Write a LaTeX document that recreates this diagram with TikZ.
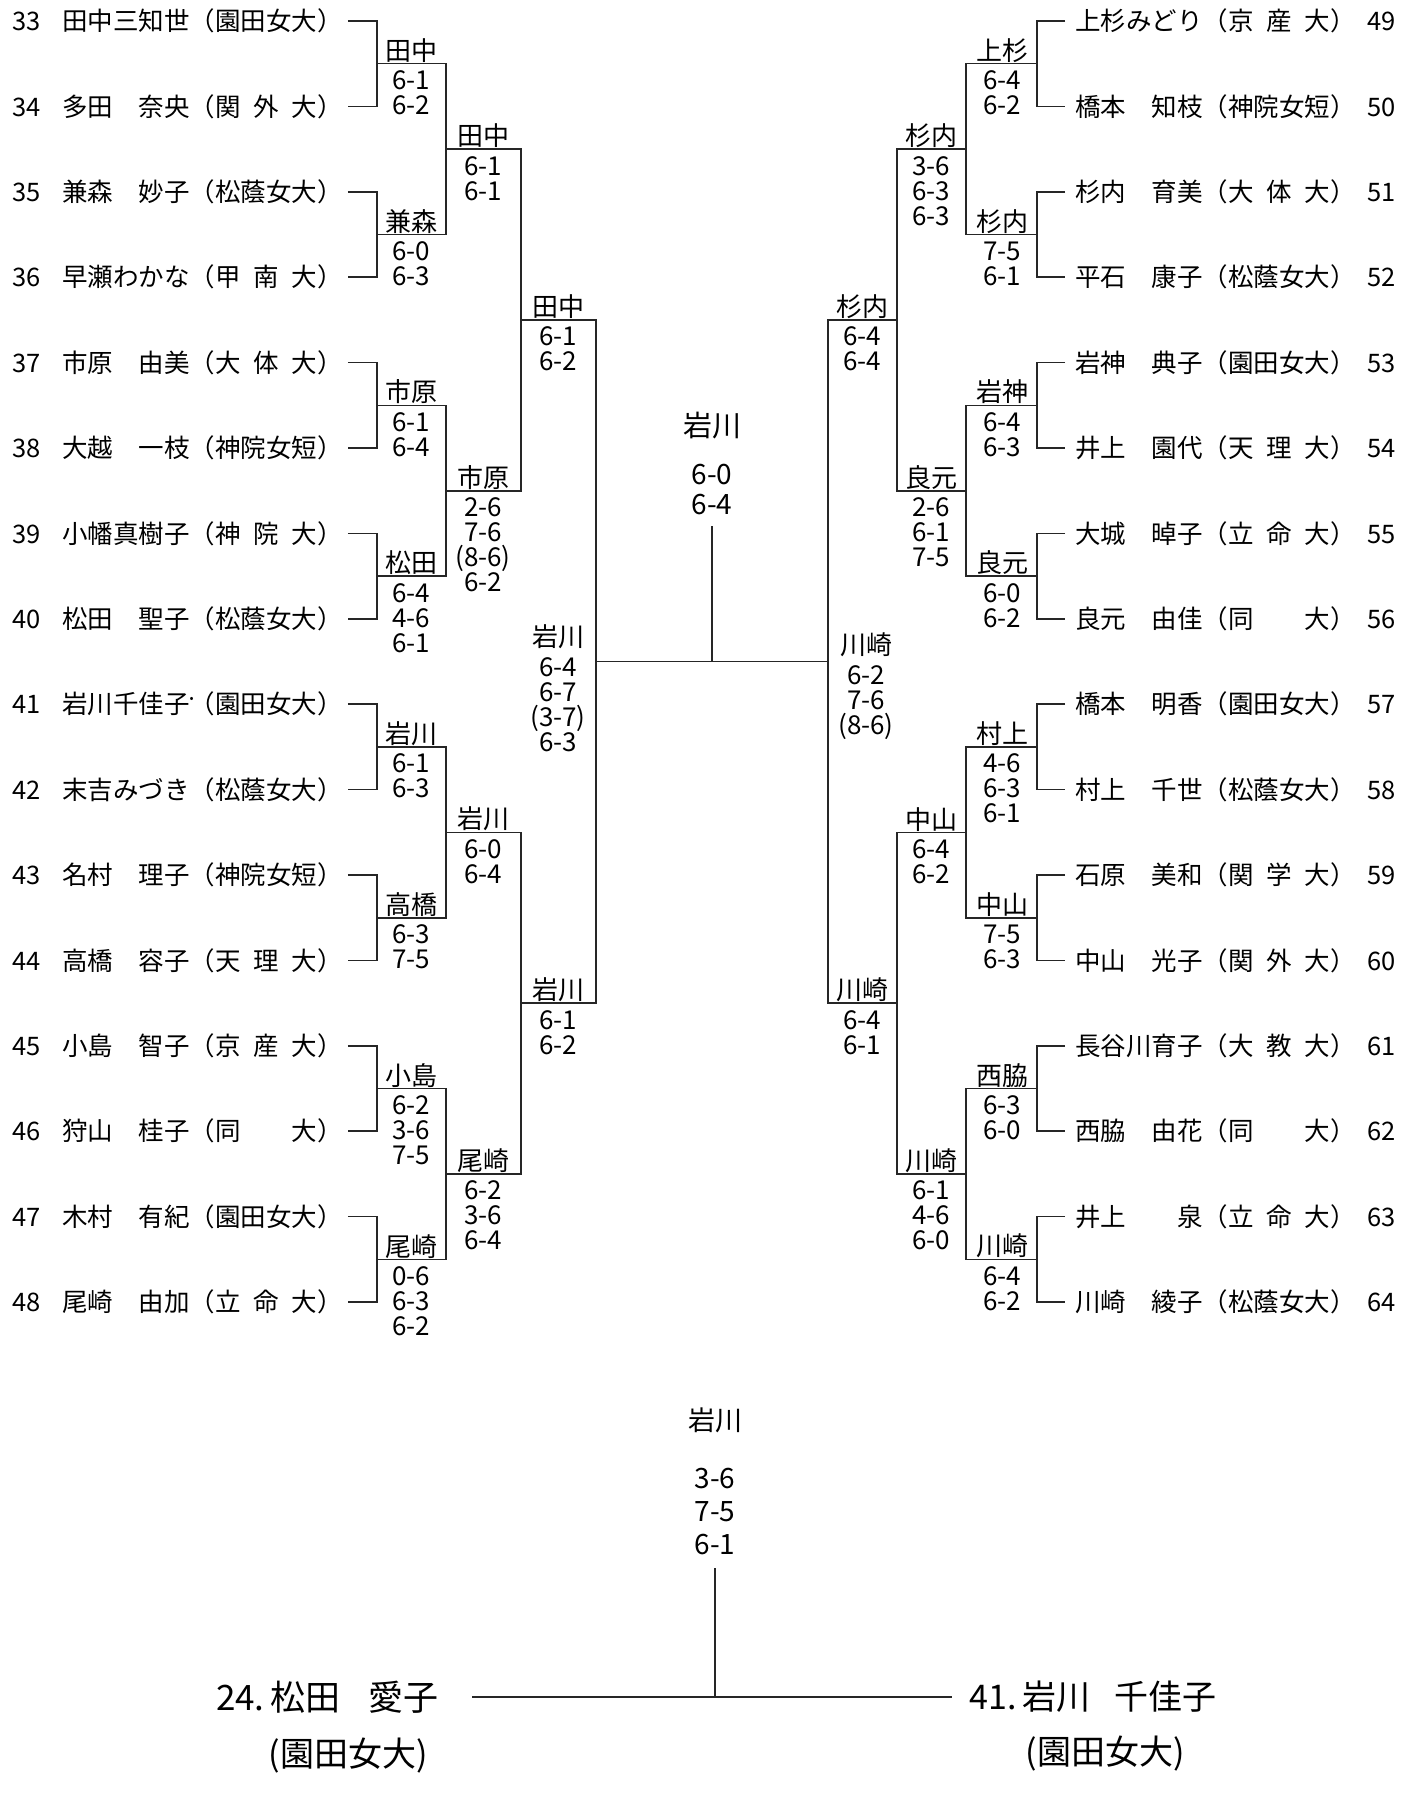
\documentclass[tikz,border=0pt]{standalone}
\usepackage{fontspec}
\setmainfont{Noto Sans CJK JP}
\usetikzlibrary{positioning}

\newcommand{\uni}[1]{\makebox[4em][s]{#1}}
\newcommand{\numL}[1]{\makebox[50pt][l]{#1}}
\newcommand{\numR}[1]{\makebox[40pt][r]{#1}}
\newcommand{\seed}{\rlap{\raisebox{.45em}{\fontsize{12}{12}\selectfont •}}}

\begin{document}
\begin{tikzpicture}[
  x=1pt, y=-1pt,
  player/.style={inner sep=0pt, font=\fontsize{25.5}{28}\selectfont},
  plL/.style={player, anchor=west},
  plR/.style={player, anchor=east},
  win/.style={anchor=south, inner sep=1pt, font=\fontsize{26}{26}\selectfont},
  score/.style={anchor=north, inner sep=1pt, align=center, font=\fontsize{26}{25}\selectfont},
  bracket/.style={line width=1.6pt, black!85}
]
\fill[white] (0,0) rectangle (1423,1798);
\useasboundingbox (0,0) rectangle (1423,1798);

% players, left half
\node[plL] (p33) at (12,21)     {\numL{33}田中三知世（\uni{園田女大}）};
\node[plL] (p34) at (12,106.4)  {\numL{34}多田　奈央（\uni{関\hfill 外\hfill 大}）};
\node[plL] (p35) at (12,191.8)  {\numL{35}兼森　妙子（\uni{松蔭女大}）};
\node[plL] (p36) at (12,277.2)  {\numL{36}早瀬わかな（\uni{甲\hfill 南\hfill 大}）};
\node[plL] (p37) at (12,362.6)  {\numL{37}市原　由美（\uni{大\hfill 体\hfill 大}）};
\node[plL] (p38) at (12,448)    {\numL{38}大越　一枝（\uni{神院女短}）};
\node[plL] (p39) at (12,533.4)  {\numL{39}小幡真樹子（\uni{神\hfill 院\hfill 大}）};
\node[plL] (p40) at (12,618.8)  {\numL{40}松田　聖子（\uni{松蔭女大}）};
\node[plL] (p41) at (12,704.2)  {\numL{41}岩川千佳子\seed（\uni{園田女大}）};
\node[plL] (p42) at (12,789.6)  {\numL{42}末吉みづき（\uni{松蔭女大}）};
\node[plL] (p43) at (12,875)    {\numL{43}名村　理子（\uni{神院女短}）};
\node[plL] (p44) at (12,960.4)  {\numL{44}高橋　容子（\uni{天\hfill 理\hfill 大}）};
\node[plL] (p45) at (12,1045.8) {\numL{45}小島　智子（\uni{京\hfill 産\hfill 大}）};
\node[plL] (p46) at (12,1131.2) {\numL{46}狩山　桂子（\uni{同\hfill 大}）};
\node[plL] (p47) at (12,1216.6) {\numL{47}木村　有紀（\uni{園田女大}）};
\node[plL] (p48) at (12,1302)   {\numL{48}尾崎　由加（\uni{立\hfill 命\hfill 大}）};

% players, right half
\node[plR] (p49) at (1396,21)     {上杉みどり（\uni{京\hfill 産\hfill 大}）\numR{49}};
\node[plR] (p50) at (1396,106.4)  {橋本　知枝（\uni{神院女短}）\numR{50}};
\node[plR] (p51) at (1396,191.8)  {杉内　育美（\uni{大\hfill 体\hfill 大}）\numR{51}};
\node[plR] (p52) at (1396,277.2)  {平石　康子（\uni{松蔭女大}）\numR{52}};
\node[plR] (p53) at (1396,362.6)  {岩神　典子（\uni{園田女大}）\numR{53}};
\node[plR] (p54) at (1396,448)    {井上　園代（\uni{天\hfill 理\hfill 大}）\numR{54}};
\node[plR] (p55) at (1396,533.4)  {大城　晫子（\uni{立\hfill 命\hfill 大}）\numR{55}};
\node[plR] (p56) at (1396,618.8)  {良元　由佳（\uni{同\hfill 大}）\numR{56}};
\node[plR] (p57) at (1396,704.2)  {橋本　明香（\uni{園田女大}）\numR{57}};
\node[plR] (p58) at (1396,789.6)  {村上　千世（\uni{松蔭女大}）\numR{58}};
\node[plR] (p59) at (1396,875)    {石原　美和（\uni{関\hfill 学\hfill 大}）\numR{59}};
\node[plR] (p60) at (1396,960.4)  {中山　光子（\uni{関\hfill 外\hfill 大}）\numR{60}};
\node[plR] (p61) at (1396,1045.8) {長谷川育子（\uni{大\hfill 教\hfill 大}）\numR{61}};
\node[plR] (p62) at (1396,1131.2) {西脇　由花（\uni{同\hfill 大}）\numR{62}};
\node[plR] (p63) at (1396,1216.6) {井上　　泉（\uni{立\hfill 命\hfill 大}）\numR{63}};
\node[plR] (p64) at (1396,1302)   {川崎　綾子（\uni{松蔭女大}）\numR{64}};

% bracket junctions
\coordinate (la1) at (377,63.7);  \coordinate (la2) at (377,234.5);
\coordinate (la3) at (377,405.3); \coordinate (la4) at (377,576.1);
\coordinate (la5) at (377,746.9); \coordinate (la6) at (377,917.7);
\coordinate (la7) at (377,1088.5);\coordinate (la8) at (377,1259.3);
\coordinate (lb1) at (446,149.1); \coordinate (lb2) at (446,490.7);
\coordinate (lb3) at (446,832.3); \coordinate (lb4) at (446,1173.9);
\coordinate (lc1) at (521,319.9); \coordinate (lc2) at (521,1003.1);
\coordinate (ld)  at (596,661.5);
\coordinate (ctr) at (712,661.5);
\coordinate (rd)  at (828,661.5);
\coordinate (rc1) at (897,319.9); \coordinate (rc2) at (897,1003.1);
\coordinate (rb1) at (966,149.1); \coordinate (rb2) at (966,490.7);
\coordinate (rb3) at (966,832.3); \coordinate (rb4) at (966,1173.9);
\coordinate (ra1) at (1037,63.7);  \coordinate (ra2) at (1037,234.5);
\coordinate (ra3) at (1037,405.3); \coordinate (ra4) at (1037,576.1);
\coordinate (ra5) at (1037,746.9); \coordinate (ra6) at (1037,917.7);
\coordinate (ra7) at (1037,1088.5);\coordinate (ra8) at (1037,1259.3);

% handwritten results, left
\node[win] (wla1) at (411,63.7) {田中};   \node[score, below=6pt of wla1.south] {6-1\\6-2};
\node[win] (wla2) at (411,234.5) {兼森};  \node[score, below=6pt of wla2.south] {6-0\\6-3};
\node[win] (wla3) at (411,405.3) {市原};  \node[score, below=6pt of wla3.south] {6-1\\6-4};
\node[win] (wla4) at (411,576.1) {松田};  \node[score, below=6pt of wla4.south] {6-4\\4-6\\6-1};
\node[win] (wla5) at (411,746.9) {岩川};  \node[score, below=6pt of wla5.south] {6-1\\6-3};
\node[win] (wla6) at (411,917.7) {高橋};  \node[score, below=6pt of wla6.south] {6-3\\7-5};
\node[win] (wla7) at (411,1088.5) {小島}; \node[score, below=6pt of wla7.south] {6-2\\3-6\\7-5};
\node[win] (wla8) at (411,1259.3) {尾崎}; \node[score, below=6pt of wla8.south] {0-6\\6-3\\6-2};
\node[win] (wlb1) at (483,149.1) {田中};  \node[score, below=6pt of wlb1.south] {6-1\\6-1};
\node[win] (wlb2) at (483,490.7) {市原};  \node[score, below=6pt of wlb2.south] {2-6\\7-6\\(8-6)\\6-2};
\node[win] (wlb3) at (483,832.3) {岩川};  \node[score, below=6pt of wlb3.south] {6-0\\6-4};
\node[win] (wlb4) at (483,1173.9) {尾崎}; \node[score, below=6pt of wlb4.south] {6-2\\3-6\\6-4};
\node[win] (wlc1) at (558,319.9) {田中};  \node[score, below=6pt of wlc1.south] {6-1\\6-2};
\node[win] (wlc2) at (558,1003.1) {岩川}; \node[score, below=6pt of wlc2.south] {6-1\\6-2};
\node[win] (wld)  at (558,650) {岩川};    \node[score, below=6pt of wld.south] {6-4\\6-7\\(3-7)\\6-3};

% handwritten results, right
\node[win] (wra1) at (1002,63.7) {上杉};   \node[score, below=6pt of wra1.south] {6-4\\6-2};
\node[win] (wra2) at (1002,234.5) {杉内};  \node[score, below=6pt of wra2.south] {7-5\\6-1};
\node[win] (wra3) at (1002,405.3) {岩神};  \node[score, below=6pt of wra3.south] {6-4\\6-3};
\node[win] (wra4) at (1002,576.1) {良元};  \node[score, below=6pt of wra4.south] {6-0\\6-2};
\node[win] (wra5) at (1002,746.9) {村上};  \node[score, below=6pt of wra5.south] {4-6\\6-3\\6-1};
\node[win] (wra6) at (1002,917.7) {中山};  \node[score, below=6pt of wra6.south] {7-5\\6-3};
\node[win] (wra7) at (1002,1088.5) {西脇}; \node[score, below=6pt of wra7.south] {6-3\\6-0};
\node[win] (wra8) at (1002,1259.3) {川崎}; \node[score, below=6pt of wra8.south] {6-4\\6-2};
\node[win] (wrb1) at (931,149.1) {杉内};   \node[score, below=6pt of wrb1.south] {3-6\\6-3\\6-3};
\node[win] (wrb2) at (931,490.7) {良元};   \node[score, below=6pt of wrb2.south] {2-6\\6-1\\7-5};
\node[win] (wrb3) at (931,832.3) {中山};   \node[score, below=6pt of wrb3.south] {6-4\\6-2};
\node[win] (wrb4) at (931,1173.9) {川崎};  \node[score, below=6pt of wrb4.south] {6-1\\4-6\\6-0};
\node[win] (wrc1) at (862,319.9) {杉内};   \node[score, below=6pt of wrc1.south] {6-4\\6-4};
\node[win] (wrc2) at (862,1003.1) {川崎};  \node[score, below=6pt of wrc2.south] {6-4\\6-1};
\node[win] (wrd)  at (866,658) {川崎};     \node[score, below=6pt of wrd.south] {6-2\\7-6\\(8-6)};

% final
\node[font=\fontsize{29}{29}\selectfont] (fw) at (712,426) {岩川};
\node[score, font=\fontsize{28}{30}\selectfont] (fsc) at (712,463) {6-0\\6-4};

% play-off
\node[font=\fontsize{27}{27}\selectfont] (bw) at (715,1420) {岩川};
\node[score, font=\fontsize{28}{33}\selectfont] (bsc) at (715,1467) {3-6\\7-5\\6-1};
\coordinate (bm) at (715,1697);
\node[anchor=east, font=\fontsize{35}{35}\selectfont] (fa) at (442,1697) {24.\,松田\hspace{.8em}愛子};
\node[anchor=west, font=\fontsize{34}{34}\selectfont] (fb) at (966,1697) {41.\,岩川\hspace{.7em}千佳子};
\node[font=\fontsize{34}{34}\selectfont] (fa2) at (348,1756) {(園田女大)};
\node[font=\fontsize{34}{34}\selectfont] (fb2) at (1105,1754) {(園田女大)};

% round 1
\draw[bracket] ([xshift=5pt]p33.east) -| (la1) |- ([xshift=5pt]p34.east);
\draw[bracket] ([xshift=5pt]p35.east) -| (la2) |- ([xshift=5pt]p36.east);
\draw[bracket] ([xshift=5pt]p37.east) -| (la3) |- ([xshift=5pt]p38.east);
\draw[bracket] ([xshift=5pt]p39.east) -| (la4) |- ([xshift=5pt]p40.east);
\draw[bracket] ([xshift=5pt]p41.east) -| (la5) |- ([xshift=5pt]p42.east);
\draw[bracket] ([xshift=5pt]p43.east) -| (la6) |- ([xshift=5pt]p44.east);
\draw[bracket] ([xshift=5pt]p45.east) -| (la7) |- ([xshift=5pt]p46.east);
\draw[bracket] ([xshift=5pt]p47.east) -| (la8) |- ([xshift=5pt]p48.east);
\draw[bracket] ([xshift=-10pt]p49.west) -| (ra1) |- ([xshift=-10pt]p50.west);
\draw[bracket] ([xshift=-10pt]p51.west) -| (ra2) |- ([xshift=-10pt]p52.west);
\draw[bracket] ([xshift=-10pt]p53.west) -| (ra3) |- ([xshift=-10pt]p54.west);
\draw[bracket] ([xshift=-10pt]p55.west) -| (ra4) |- ([xshift=-10pt]p56.west);
\draw[bracket] ([xshift=-10pt]p57.west) -| (ra5) |- ([xshift=-10pt]p58.west);
\draw[bracket] ([xshift=-10pt]p59.west) -| (ra6) |- ([xshift=-10pt]p60.west);
\draw[bracket] ([xshift=-10pt]p61.west) -| (ra7) |- ([xshift=-10pt]p62.west);
\draw[bracket] ([xshift=-10pt]p63.west) -| (ra8) |- ([xshift=-10pt]p64.west);
% later rounds
\draw[bracket] (la1) -| (lb1) |- (la2);
\draw[bracket] (la3) -| (lb2) |- (la4);
\draw[bracket] (la5) -| (lb3) |- (la6);
\draw[bracket] (la7) -| (lb4) |- (la8);
\draw[bracket] (ra1) -| (rb1) |- (ra2);
\draw[bracket] (ra3) -| (rb2) |- (ra4);
\draw[bracket] (ra5) -| (rb3) |- (ra6);
\draw[bracket] (ra7) -| (rb4) |- (ra8);
\draw[bracket] (lb1) -| (lc1) |- (lb2);
\draw[bracket] (lb3) -| (lc2) |- (lb4);
\draw[bracket] (rb1) -| (rc1) |- (rb2);
\draw[bracket] (rb3) -| (rc2) |- (rb4);
\draw[bracket] (lc1) -| (ld) |- (lc2);
\draw[bracket] (rc1) -| (rd) |- (rc2);
\draw[bracket] (ld) -- (rd);
\draw[bracket] (ctr) -- ([yshift=-10pt]fsc.south);
% play-off lines
\draw[bracket] ([xshift=30pt]fa.east) -- ([xshift=-14pt]fb.west);
\draw[bracket] (bm) -- ([yshift=-12pt]bsc.south);

\end{tikzpicture}
\end{document}
